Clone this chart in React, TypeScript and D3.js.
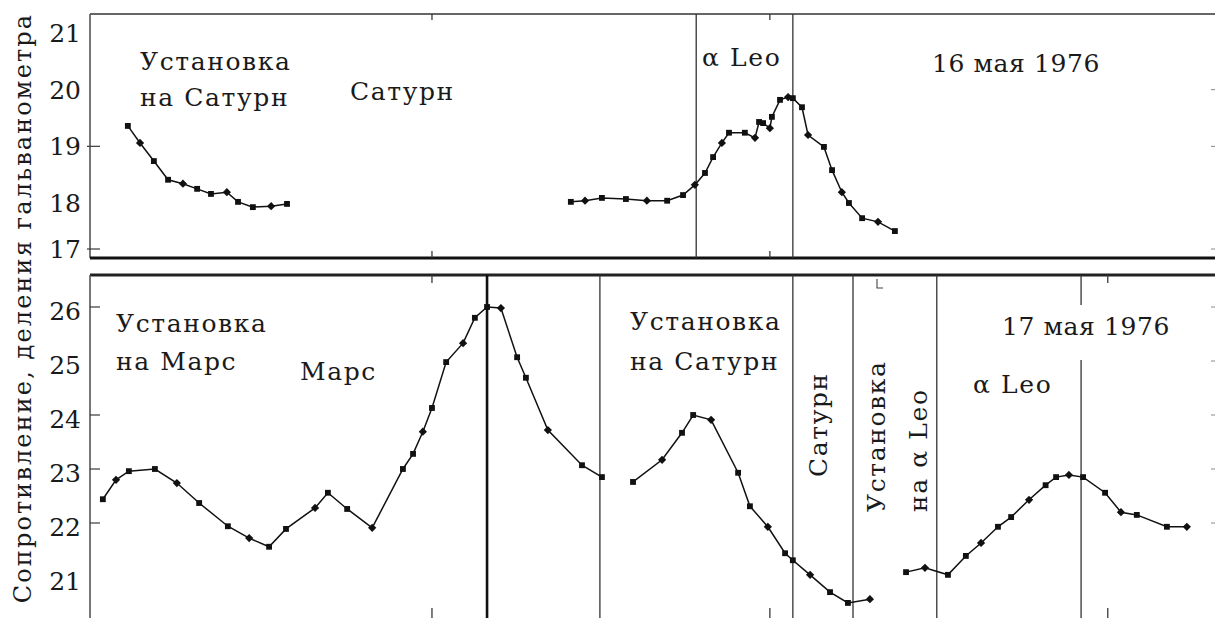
import React from "react";
import * as d3 from "d3";

const W = 1215;
const H = 618;

// ---- axes (time in minutes, arbitrary origin) ----
const X_TICKS_TOP_PANEL = [10, 20];
const X_TICKS_BOT_PANEL_TOP = [10, 30];
const X_TICKS_BOT_PANEL_BOTTOM = [10, 20, 30];

const TOP_Y_LABELS = [21, 20, 19, 18, 17];
const TOP_Y_TICKS_LEFT = [19, 17];
const TOP_Y_TICKS_RIGHT = [20, 19, 17];
const BOT_Y_LABELS = [26, 25, 24, 23, 22, 21];
const BOT_Y_TICKS_LEFT = [26, 24, 23, 22];
const BOT_Y_TICKS_RIGHT = [26, 25, 24, 23, 22];

// ---- 16 May 1976 ----
const SAT16_T = [1.0, 1.36, 1.77, 2.19, 2.63, 3.05, 3.46, 3.93, 4.26, 4.7, 5.24, 5.71];
const SAT16_V = [19.36, 19.06, 18.74, 18.41, 18.34, 18.25, 18.16, 18.19, 18.02, 17.91, 17.93, 17.98];

const LEO16_T = [14.11, 14.53, 15.03, 15.74, 16.36, 16.96, 17.43, 17.78, 18.08, 18.32, 18.58, 18.79, 19.26, 19.56, 19.68, 19.8, 20.0, 20.06, 20.3, 20.54, 20.68, 20.95, 21.13, 21.6, 21.84, 22.13, 22.34, 22.73, 23.2, 23.7];
const LEO16_V = [18.02, 18.04, 18.09, 18.07, 18.04, 18.04, 18.14, 18.32, 18.53, 18.81, 19.06, 19.24, 19.24, 19.15, 19.43, 19.41, 19.32, 19.52, 19.82, 19.87, 19.85, 19.69, 19.2, 18.99, 18.58, 18.19, 18.0, 17.67, 17.59, 17.39];

const TOP_BOUNDARIES = [17.82, 20.68];

// ---- 17 May 1976 ----
const MARS17_T = [0.26, 0.65, 1.03, 1.8, 2.45, 3.11, 3.96, 4.59, 5.18, 5.68, 6.54, 6.92, 7.49, 8.23, 9.14, 9.44, 9.73, 10.0, 10.42, 10.92, 11.27, 11.63, 12.04, 12.52, 12.78, 13.43, 14.44, 15.03];
const MARS17_V = [22.44, 22.8, 22.96, 23.0, 22.74, 22.37, 21.94, 21.72, 21.56, 21.89, 22.28, 22.56, 22.26, 21.91, 23.0, 23.28, 23.69, 24.13, 24.98, 25.33, 25.8, 26.0, 25.98, 25.07, 24.69, 23.72, 23.07, 22.85];

const SAT17_T = [15.95, 16.81, 17.4, 17.73, 18.26, 19.06, 19.41, 19.94, 20.45, 20.68, 21.19, 21.78, 22.31, 22.96];
const SAT17_V = [22.76, 23.17, 23.67, 24.0, 23.91, 22.93, 22.31, 21.93, 21.44, 21.31, 21.04, 20.72, 20.52, 20.59];

const LEO17_T = [24.03, 24.59, 25.27, 25.8, 26.25, 26.75, 27.14, 27.67, 28.16, 28.47, 28.85, 29.27, 29.92, 30.39, 30.86, 31.75, 32.34];
const LEO17_V = [21.09, 21.17, 21.04, 21.39, 21.63, 21.93, 22.11, 22.43, 22.7, 22.85, 22.89, 22.85, 22.56, 22.2, 22.15, 21.93, 21.93];

const BOT_BOUNDARIES = [14.97, 20.68, 22.46, 24.94, 29.21];
const MARS_TRANSIT = 11.63;

const FONT = "DejaVu Serif";
const INK = "#111";
const FRAME = "#3a3a3a";

export default function App() {
  const x = d3.scaleLinear().domain([0, 30]).range([94.07, 1107.77]);
  const yTop = d3.scaleLinear().domain([17, 18, 21]).range([249, 203, 33]);
  const yBot = d3.scaleLinear().domain([21, 26]).range([577, 307]);

  const L = 90;
  const R = W;
  const topT = 14, topB = 258;
  const botT = 275, botB = H + 10;

  const mk = (ts: number[], vs: number[]) => ts.map((t, i) => [t, vs[i]] as [number, number]);

  const lineT = d3.line<[number, number]>().x(d => x(d[0])).y(d => yTop(d[1])).curve(d3.curveLinear);
  const lineB = d3.line<[number, number]>().x(d => x(d[0])).y(d => yBot(d[1])).curve(d3.curveLinear);
  const sq = d3.symbol().type(d3.symbolSquare).size(34)() as string;

  const topSeries = [mk(SAT16_T, SAT16_V), mk(LEO16_T, LEO16_V)];
  const botSeries = [mk(MARS17_T, MARS17_V), mk(SAT17_T, SAT17_V), mk(LEO17_T, LEO17_V)];

  const txt = { fontFamily: FONT, fontSize: 25, fill: "#1a1a1a", letterSpacing: 1.6 } as React.CSSProperties;
  const dateTxt = { ...txt, letterSpacing: 0.6 } as React.CSSProperties;
  const tickTxt = { fontFamily: FONT, fontSize: 25, fill: "#1a1a1a" } as React.CSSProperties;

  return (
    <svg width={W} height={H} style={{ position: "absolute", left: 0, top: 0, background: "#fff" }}>
      {/* Y axis title */}
      <text transform={`translate(31,${308}) rotate(-90)`} textAnchor="middle" style={{ ...txt, fontSize: 24, letterSpacing: 2.1 }}>
        Сопротивление, деления гальванометра
      </text>

      {/* ---------- TOP PANEL ---------- */}
      <line x1={L} x2={R} y1={topT} y2={topT} stroke="#666" strokeWidth={2} />
      <line x1={L} x2={L} y1={topT} y2={topB} stroke="#555" strokeWidth={1.6} />
      <line x1={L} x2={R} y1={topB} y2={topB} stroke="#111" strokeWidth={3} />
      {X_TICKS_TOP_PANEL.map(t => (
        <g key={"tt" + t}>
          <line x1={x(t)} x2={x(t)} y1={topT} y2={topT + 6} stroke={FRAME} strokeWidth={1.3} />
          <line x1={x(t)} x2={x(t)} y1={topB} y2={topB - 7} stroke={FRAME} strokeWidth={1.3} />
        </g>
      ))}
      {TOP_Y_TICKS_LEFT.map(v => (
        <line key={"tl" + v} x1={L - 3} x2={L + 10} y1={yTop(v)} y2={yTop(v)} stroke={FRAME} strokeWidth={1.2} />
      ))}
      {TOP_Y_TICKS_RIGHT.map(v => (
        <line key={"tr" + v} x1={R - 4} x2={R} y1={yTop(v)} y2={yTop(v)} stroke="#888" strokeWidth={1} />
      ))}
      {TOP_Y_LABELS.map(v => (
        <text key={"tyl" + v} x={81} y={yTop(v)} dy="0.36em" textAnchor="end" style={tickTxt}>{v}</text>
      ))}
      {TOP_BOUNDARIES.map(t => (
        <line key={"tb" + t} x1={x(t)} x2={x(t)} y1={topT} y2={topB} stroke="#333" strokeWidth={1.3} />
      ))}
      {topSeries.map((s, i) => (
        <g key={"ts" + i}>
          <path d={lineT(s) as string} fill="none" stroke={INK} strokeWidth={1.5} />
          {s.map((d, j) => (
            <path key={j} d={sq} transform={`translate(${x(d[0])},${yTop(d[1])}) rotate(${j % 3 === 1 ? 45 : 0})`} fill={INK} />
          ))}
        </g>
      ))}
      <text x={140} y={70} style={txt}>Установка</text>
      <text x={140} y={106} style={txt}>на Сатурн</text>
      <text x={350} y={100} style={txt}>Сатурн</text>
      <text x={702} y={66} style={txt}>α Leo</text>
      <text x={932} y={72} style={dateTxt}>16 мая 1976</text>

      {/* ---------- BOTTOM PANEL ---------- */}
      <line x1={L} x2={R} y1={botT} y2={botT} stroke="#222" strokeWidth={3} />
      <line x1={L} x2={L} y1={botT} y2={botB} stroke="#555" strokeWidth={1.6} />
      {X_TICKS_BOT_PANEL_TOP.map(t => (
        <line key={"bt" + t} x1={x(t)} x2={x(t)} y1={botT} y2={botT + 8} stroke={FRAME} strokeWidth={1.3} />
      ))}
      {X_TICKS_BOT_PANEL_BOTTOM.map(t => (
        <line key={"bb" + t} x1={x(t)} x2={x(t)} y1={H - 10} y2={H} stroke={FRAME} strokeWidth={1.3} />
      ))}
      <path d="M877,279 L877,288 L883,288" fill="none" stroke="#444" strokeWidth={1.1} />
      {BOT_Y_TICKS_LEFT.map(v => (
        <line key={"bl" + v} x1={L} x2={L + 10} y1={yBot(v)} y2={yBot(v)} stroke={FRAME} strokeWidth={1.2} />
      ))}
      {BOT_Y_TICKS_RIGHT.map(v => (
        <line key={"br" + v} x1={R - 4} x2={R} y1={yBot(v)} y2={yBot(v)} stroke="#888" strokeWidth={1} />
      ))}
      {BOT_Y_LABELS.map(v => (
        <text key={"byl" + v} x={81} y={yBot(v)} dy="0.5em" textAnchor="end" style={tickTxt}>{v}</text>
      ))}
      <line x1={x(MARS_TRANSIT)} x2={x(MARS_TRANSIT)} y1={botT} y2={botB} stroke="#111" strokeWidth={2.6} />
      {BOT_BOUNDARIES.map((t, i) =>
        i === BOT_BOUNDARIES.length - 1 ? (
          <g key={"bv" + t}>
            <line x1={x(t)} x2={x(t)} y1={botT} y2={305} stroke="#333" strokeWidth={1.3} />
            <line x1={x(t)} x2={x(t)} y1={360} y2={botB} stroke="#333" strokeWidth={1.3} />
          </g>
        ) : (
          <line key={"bv" + t} x1={x(t)} x2={x(t)} y1={botT} y2={botB} stroke="#333" strokeWidth={1.3} />
        )
      )}
      {botSeries.map((s, i) => (
        <g key={"bs" + i}>
          <path d={lineB(s) as string} fill="none" stroke={INK} strokeWidth={1.5} />
          {s.map((d, j) => (
            <path key={j} d={sq} transform={`translate(${x(d[0])},${yBot(d[1])}) rotate(${j % 3 === 1 ? 45 : 0})`} fill={INK} />
          ))}
        </g>
      ))}
      <text x={116} y={332} style={txt}>Установка</text>
      <text x={116} y={370} style={txt}>на Марс</text>
      <text x={300} y={380} style={txt}>Марс</text>
      <text x={630} y={330} style={txt}>Установка</text>
      <text x={630} y={370} style={txt}>на Сатурн</text>
      <text transform="translate(827,477) rotate(-90)" style={txt}>Сатурн</text>
      <text transform="translate(885,512) rotate(-90)" style={txt}>Установка</text>
      <text transform="translate(927,512) rotate(-90)" style={txt}>на α Leo</text>
      <text x={1002} y={335} style={dateTxt}>17 мая 1976</text>
      <text x={973} y={393} style={txt}>α Leo</text>
    </svg>
  );
}
